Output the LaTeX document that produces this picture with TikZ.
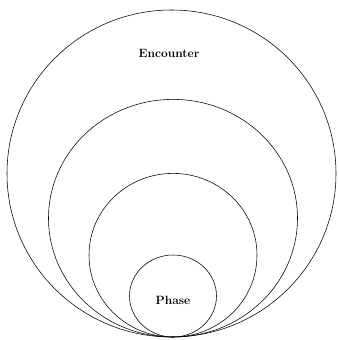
\documentclass[tikz,border=0pt]{standalone}
\usepackage{tikz}
\usetikzlibrary{positioning}

\begin{document}
\begin{tikzpicture}[x=1pt, y=1pt, ring/.style={line width=0.55pt}, lbl/.style={font=\large\bfseries}]
\useasboundingbox (0,0) rectangle (338,340);
\coordinate (base) at (173,3);
\draw[ring] (171.5,166.5) ellipse [x radius=164.5, y radius=163.5];
\draw[ring] (173,121.8) ellipse [x radius=124.5, y radius=118.8];
\draw[ring] (173,84.8) ellipse [x radius=84, y radius=81.8];
\draw[ring] (173,44) ellipse [x radius=43.5, y radius=41];
\node[lbl] (encounter) at (169,287) {Encounter};
\node[lbl] (phase) at (173,40) {Phase};
\end{tikzpicture}
\end{document}
